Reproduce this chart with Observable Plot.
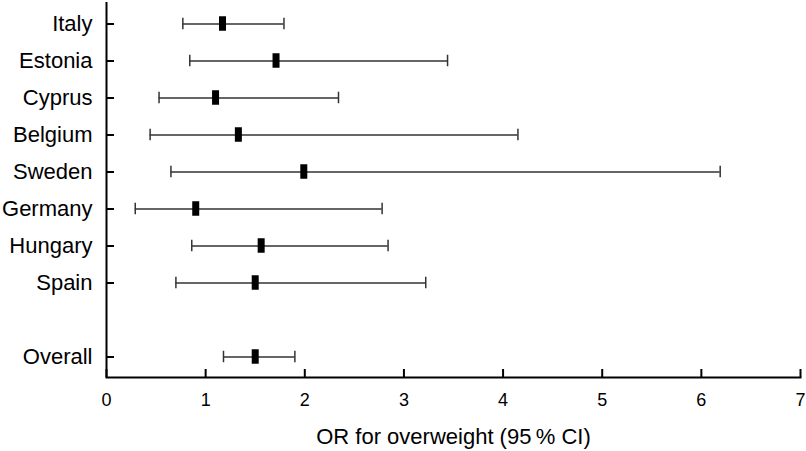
<!DOCTYPE html>
<html>
<head>
<meta charset="utf-8">
<script src="https://cdn.jsdelivr.net/npm/d3@7"></script>
<script src="https://cdn.jsdelivr.net/npm/@observablehq/plot@0.6"></script>
<style>
  html, body { margin: 0; padding: 0; background: #fff; }
  svg { font-family: "Liberation Sans", Arial, Helvetica, sans-serif; }
</style>
</head>
<body>
<div id="chart"></div>
<script>
// Data
const countries = ["Italy", "Estonia", "Cyprus", "Belgium", "Sweden", "Germany", "Hungary", "Spain", " ", "Overall"];
const labelledRows = ["Italy", "Estonia", "Cyprus", "Belgium", "Sweden", "Germany", "Hungary", "Spain", "Overall"];
const orValues = [1.17, 1.71, 1.10, 1.33, 1.99, 0.90, 1.56, 1.50, 1.50];
const ciLower  = [0.77, 0.84, 0.53, 0.44, 0.65, 0.29, 0.86, 0.70, 1.18];
const ciUpper  = [1.79, 3.44, 2.34, 4.15, 6.19, 2.78, 2.84, 3.22, 1.90];
const xTicks = [0, 1, 2, 3, 4, 5, 6, 7];
const xTitle = "OR for overweight (95\u2009% CI)";

const rows = labelledRows.map((c, i) => ({country: c, or: orValues[i], lo: ciLower[i], hi: ciUpper[i]}));

const chart = Plot.plot({
  width: 806,
  height: 451,
  marginLeft: 106,
  marginRight: 6,
  marginTop: 2,
  marginBottom: 74,
  style: {fontFamily: '"Liberation Sans", Arial, Helvetica, sans-serif', background: "#fff", color: "#000"},
  x: {domain: [0, 7]},
  y: {type: "band", domain: countries, padding: 0},
  marks: [
    Plot.frame({anchor: "bottom", stroke: "#000", strokeWidth: 2}),
    Plot.axisY({ticks: labelledRows, tickSize: -8, tickPadding: 22, fontSize: 22, strokeWidth: 2, label: null}),
    Plot.axisX({ticks: xTicks, tickFormat: d => String(d), tickSize: -8, tickPadding: 24, fontSize: 18, strokeWidth: 2,
      label: xTitle, labelAnchor: "center", labelArrow: false, labelOffset: 66}),
    Plot.ruleX([0], {stroke: "#000", strokeWidth: 2}),
    Plot.ruleY(rows, {y: "country", x1: "lo", x2: "hi", stroke: "#333", strokeWidth: 1.5}),
    Plot.tickX(rows, {x: "lo", y: "country", stroke: "#333", strokeWidth: 1.5, insetTop: 12.75, insetBottom: 12.75}),
    Plot.tickX(rows, {x: "hi", y: "country", stroke: "#333", strokeWidth: 1.5, insetTop: 12.75, insetBottom: 12.75}),
    Plot.tickX(rows, {x: "or", y: "country", stroke: "#000", strokeWidth: 7, insetTop: 11.25, insetBottom: 11.25})
  ]
});
chart.querySelectorAll("g[aria-label='x-axis label'] text").forEach(t => t.setAttribute("font-size", 22));
document.getElementById("chart").appendChild(chart);
</script>
</body>
</html>
